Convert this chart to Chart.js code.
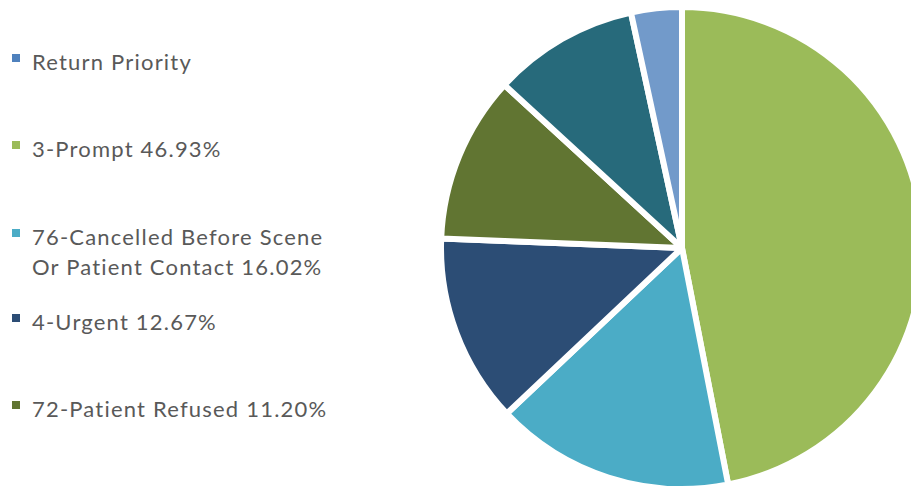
<!DOCTYPE html>
<html>
<head>
<meta charset="utf-8">
<script src="https://cdn.jsdelivr.net/npm/chart.js@4/dist/chart.umd.min.js"></script>
<style>
  html, body { margin: 0; padding: 0; width: 911px; height: 487px; overflow: hidden; background: #fff; }
  #pieBox { position: absolute; left: 438px; top: 4px; width: 488px; height: 488px; }
  #legend { position: absolute; left: 0; top: 0; font-family: Lato, sans-serif; font-size: 22px; color: #595959; letter-spacing: 1.2px; }
  .item { position: absolute; left: 32px; width: 306px; line-height: 30px; white-space: normal; }
  .swatch { position: absolute; left: 12px; width: 8px; height: 8px; }
</style>
</head>
<body>
<div id="legend"></div>
<div id="pieBox"><canvas id="pie"></canvas></div>
<script>
// Call types, drawn clockwise from 12 o'clock
const categories = [
  "3-Prompt",
  "76-Cancelled Before Scene Or Patient Contact",
  "4-Urgent",
  "72-Patient Refused",
  "Other",
  "Return Priority"
];
const shares = [46.93, 16.02, 12.67, 11.20, 9.78, 3.40];
const sliceColors = ["#9BBB59", "#4BACC6", "#2C4D75", "#617532", "#276A7B", "#729ACA"];

// Legend entries: index into categories, whether the share is printed, swatch colour, text baseline
const legendIndex = [5, 0, 1, 2, 3];
const legendShowsShare = [false, true, true, true, true];
const legendSwatch = ["#4F81BD", "#9BBB59", "#4BACC6", "#2C4D75", "#617532"];
const legendBaseline = [70, 157, 245, 330, 417];

const chart = new Chart(document.getElementById("pie"), {
  type: "pie",
  data: {
    labels: categories,
    datasets: [{
      data: shares,
      backgroundColor: sliceColors,
      borderColor: "#ffffff",
      borderWidth: 6,
      hoverOffset: 0
    }]
  },
  options: {
    responsive: true,
    maintainAspectRatio: false,
    animation: false,
    layout: { padding: 0 },
    plugins: {
      legend: { display: false },
      tooltip: { enabled: false }
    }
  }
});

// HTML legend built from the chart's data
const legend = document.getElementById("legend");
legendIndex.forEach((idx, i) => {
  const label = chart.data.labels[idx];
  const value = chart.data.datasets[0].data[idx];
  const text = legendShowsShare[i] ? label + " " + value.toFixed(2) + "%" : label;
  const item = document.createElement("div");
  item.className = "item";
  item.style.top = (legendBaseline[i] - 23) + "px";
  item.textContent = text;
  legend.appendChild(item);
  const sw = document.createElement("div");
  sw.className = "swatch";
  sw.style.top = (legendBaseline[i] - 16) + "px";
  sw.style.background = legendSwatch[i];
  legend.appendChild(sw);
});
</script>
</body>
</html>
